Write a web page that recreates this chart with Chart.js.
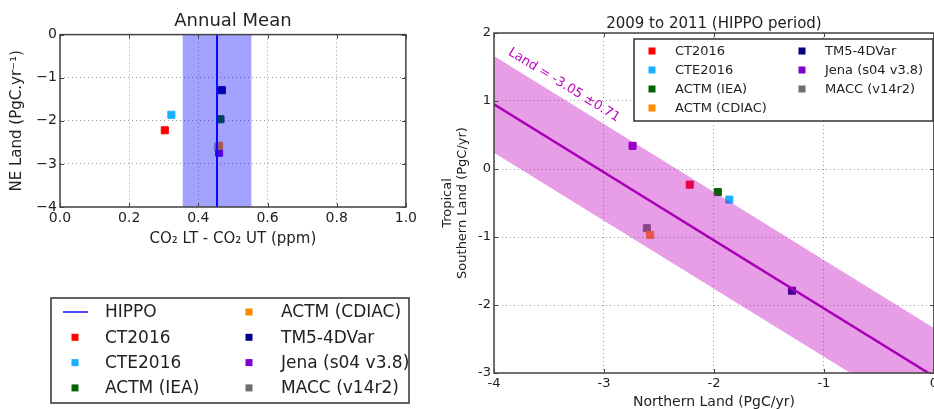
<!DOCTYPE html>
<html>
<head>
<meta charset="utf-8">
<script src="https://cdn.jsdelivr.net/npm/chart.js@4.4.0/dist/chart.umd.min.js"></script>
<style>
  html, body { margin: 0; padding: 0; background: #fff; overflow: hidden; width: 934px; height: 409px; }
  #leftWrap { position: absolute; left: 0; top: 0; }
  #rightWrap { position: absolute; left: 430px; top: 0; }
</style>
</head>
<body>
<div id="leftWrap"><canvas id="annualChart" width="420" height="409"></canvas></div>
<div id="rightWrap"><canvas id="hippoChart" width="511" height="409"></canvas></div>
<script>
// models (same order in both panels and both legends)
const modelNames = ["CT2016", "CTE2016", "ACTM (IEA)", "ACTM (CDIAC)", "TM5-4DVar", "Jena (s04 v3.8)", "MACC (v14r2)"];
const modelColors = ["#ff0000", "#1ab0ff", "#006400", "#ff8c00", "#000080", "#8000cc", "#6e6e6e"];

// left panel: vertical gradient (ppm) vs NE land flux
const ltMinusUt = [0.303, 0.322, 0.464, 0.460, 0.468, 0.460, 0.458];
// northern land flux (PgC/yr), used in both panels
const northernLand = [-2.22, -1.86, -1.965, -2.58, -1.29, -2.74, -2.61];
// right panel: tropical + southern land flux (PgC/yr)
const southernLand = [-0.23, -0.45, -0.34, -0.97, -1.79, 0.34, -0.87];

// HIPPO observed gradient and its range
const hippoMean = 0.454;
const hippoRange = [0.354, 0.554];

// total land constraint line and +-0.71 band
const fitX = [-4, 0];
const fitLine = [0.95, -3.05];
const fitUpper = [1.66, -2.34];
const fitLower = [0.24, -3.76];
const fitLabel = "Land = -3.05 \u00b10.71";
const fitLabelAt = [-3.86, 1.73];

// tick labels
const leftXTicks = [0, 0.2, 0.4, 0.6, 0.8, 1.0];
const leftYTicks = [0, -1, -2, -3, -4];
const rightXTicks = [-4, -3, -2, -1, 0];
const rightYTicks = [2, 1, 0, -1, -2, -3];

Chart.defaults.font.family = "'DejaVu Sans', sans-serif";
Chart.defaults.color = "#222";

const toPts = (xs, ys) => xs.map((x, i) => ({ x: x, y: ys[i] }));

// box round the plot with matplotlib style inward ticks
const frameTicks = {
  id: "frameTicks",
  afterDatasetsDraw(chart) {
    const { ctx, chartArea: a, scales: { x, y } } = chart;
    ctx.save();
    ctx.strokeStyle = "#444";
    ctx.lineWidth = 1;
    ctx.beginPath();
    x.ticks.forEach(t => {
      const px = Math.round(x.getPixelForValue(t.value)) + 0.5;
      ctx.moveTo(px, a.bottom); ctx.lineTo(px, a.bottom - 4);
      ctx.moveTo(px, a.top); ctx.lineTo(px, a.top + 4);
    });
    y.ticks.forEach(t => {
      const py = Math.round(y.getPixelForValue(t.value)) + 0.5;
      ctx.moveTo(a.left, py); ctx.lineTo(a.left + 4, py);
      ctx.moveTo(a.right, py); ctx.lineTo(a.right - 4, py);
    });
    ctx.stroke();
    ctx.lineWidth = 1.5;
    ctx.strokeRect(a.left, a.top, a.right - a.left, a.bottom - a.top);
    ctx.restore();
  }
};

// framed two column legend (column-major like matplotlib)
const boxLegend = {
  id: "boxLegend",
  afterDraw(chart, args, o) {
    const { ctx } = chart;
    const items = chart.data.datasets.filter(d => d.label);
    ctx.save();
    ctx.fillStyle = "#fff";
    ctx.fillRect(o.box[0], o.box[1], o.box[2], o.box[3]);
    ctx.strokeStyle = "#333";
    ctx.lineWidth = 1.5;
    ctx.strokeRect(o.box[0], o.box[1], o.box[2], o.box[3]);
    ctx.font = o.fontSize + "px 'DejaVu Sans'";
    ctx.textBaseline = "middle";
    items.forEach((d, i) => {
      const col = Math.floor(i / o.rows), row = i % o.rows;
      const my = o.rowY + row * o.rowStep;
      const mx = o.markX[col];
      if (d.pointRadius === 0) {
        ctx.strokeStyle = d.borderColor;
        ctx.lineWidth = 1.5;
        ctx.beginPath();
        ctx.moveTo(mx - 12, my); ctx.lineTo(mx + 13, my);
        ctx.stroke();
      } else {
        ctx.fillStyle = d.backgroundColor;
        ctx.fillRect(mx - 3.5, my - 3.5, 7, 7);
      }
      ctx.fillStyle = "#222";
      ctx.fillText(d.label, o.textX[col], my + 1);
    });
    ctx.restore();
  }
};

// rotated label along the constraint band
const bandLabel = {
  id: "bandLabel",
  afterDatasetsDraw(chart, args, o) {
    if (!o.text) return;
    const { ctx, scales: { x, y } } = chart;
    const x0 = x.getPixelForValue(fitX[0]), y0 = y.getPixelForValue(fitLine[0]);
    const x1 = x.getPixelForValue(fitX[1]), y1 = y.getPixelForValue(fitLine[1]);
    ctx.save();
    ctx.translate(x.getPixelForValue(o.at[0]), y.getPixelForValue(o.at[1]));
    ctx.rotate(Math.atan2(y1 - y0, x1 - x0));
    ctx.font = "13px 'DejaVu Sans'";
    ctx.fillStyle = o.color;
    ctx.textBaseline = "middle";
    ctx.fillText(o.text, 0, 0);
    ctx.restore();
  }
};

function modelSets(xs, ys) {
  return modelNames.map((name, i) => ({
    label: name,
    data: [{ x: xs[i], y: ys[i] }],
    pointStyle: "rect",
    pointRadius: 5,
    pointBorderWidth: 1,
    backgroundColor: modelColors[i],
    borderColor: modelColors[i],
    showLine: false
  }));
}

function axis(opts) {
  return {
    type: "linear",
    min: opts.min,
    max: opts.max,
    afterBuildTicks: s => { s.ticks = opts.ticks.map(v => ({ value: v })); },
    afterFit: s => { if (opts.width) s.width = opts.width; if (opts.height) s.height = opts.height; },
    ticks: { callback: opts.format, font: { size: opts.tickSize }, color: "#222", padding: 3, maxRotation: 0, autoSkip: false },
    grid: { color: "#999", lineWidth: 1, drawTicks: false },
    border: { display: false, dash: [1, 3] },
    title: { display: true, text: opts.title, font: { size: opts.titleSize, lineHeight: opts.lineHeight || 1.2 }, color: "#222", padding: opts.titlePad }
  };
}

// Panel 1: annual mean
new Chart(document.getElementById("annualChart").getContext("2d"), {
  type: "scatter",
  data: {
    datasets: [
      {
        data: toPts(hippoRange, [0, 0]),
        showLine: true, fill: "start", borderWidth: 0, pointRadius: 0,
        backgroundColor: "rgba(0,0,255,0.36)"
      },
      {
        label: "HIPPO",
        data: toPts([hippoMean, hippoMean], [0, -4]),
        showLine: true, borderColor: "#1010ff", borderWidth: 2, pointRadius: 0
      },
      ...modelSets(ltMinusUt, northernLand)
    ]
  },
  options: {
    responsive: false,
    animation: false,
    layout: { padding: { left: 0, right: 14, top: 0, bottom: 160 } },
    plugins: {
      legend: { display: false },
      tooltip: { enabled: false },
      title: { display: true, text: "Annual Mean", fullSize: false, color: "#222", font: { size: 18, weight: "normal" }, padding: { top: 11, bottom: 2 } },
      boxLegend: { box: [51, 298, 358, 105], rows: 4, rowY: 312, rowStep: 25.3, markX: [75, 249], textX: [105, 281], fontSize: 17 }
    },
    scales: {
      x: axis({ min: 0, max: 1, ticks: leftXTicks, format: v => v.toFixed(1), tickSize: 14, height: 42,
        title: "CO\u2082 LT - CO\u2082 UT (ppm)", titleSize: 15, titlePad: { top: 0, bottom: 1 } }),
      y: axis({ min: -4, max: 0, ticks: leftYTicks, format: v => (v === 0 ? "0" : "\u2212" + Math.abs(v)), tickSize: 14, width: 60,
        title: "NE Land (PgC.yr\u207b\u00b9)", titleSize: 15, titlePad: { top: 8, bottom: 0 } })
    }
  },
  plugins: [frameTicks, boxLegend]
});

// Panel 2: 2009 to 2011
new Chart(document.getElementById("hippoChart").getContext("2d"), {
  type: "scatter",
  data: {
    datasets: [
      {
        data: toPts(fitX, fitUpper),
        showLine: true, fill: "+1", borderWidth: 0, pointRadius: 0,
        backgroundColor: "rgba(191,0,191,0.38)"
      },
      {
        data: toPts(fitX, fitLower),
        showLine: true, fill: false, borderWidth: 0, pointRadius: 0
      },
      {
        data: toPts(fitX, fitLine),
        showLine: true, borderColor: "#9a00b0", borderWidth: 2.5, pointRadius: 0
      },
      ...modelSets(northernLand, southernLand)
    ]
  },
  options: {
    responsive: false,
    animation: false,
    layout: { padding: { left: 0, right: 0, top: 0, bottom: 0 } },
    plugins: {
      legend: { display: false },
      tooltip: { enabled: false },
      title: { display: true, text: "2009 to 2011 (HIPPO period)", fullSize: false, color: "#222", font: { size: 15, weight: "normal" }, padding: { top: 15, bottom: 0 } },
      boxLegend: { box: [204, 39, 299, 82], rows: 4, rowY: 51, rowStep: 19, markX: [222, 372], textX: [245, 395], fontSize: 13 },
      bandLabel: { text: fitLabel, at: fitLabelAt, color: "#c000c0" }
    },
    scales: {
      x: axis({ min: -4, max: 0, ticks: rightXTicks, format: v => String(v), tickSize: 13, height: 36,
        title: "Northern Land (PgC/yr)", titleSize: 14, titlePad: { top: 0, bottom: -2 } }),
      y: axis({ min: -3, max: 2, ticks: rightYTicks, format: v => String(v), tickSize: 13, width: 64,
        title: ["Tropical", "Southern Land (PgC/yr)"], titleSize: 13, lineHeight: 1.15, titlePad: { top: 10.5, bottom: 0 } })
    }
  },
  plugins: [frameTicks, boxLegend, bandLabel]
});
</script>
</body>
</html>
